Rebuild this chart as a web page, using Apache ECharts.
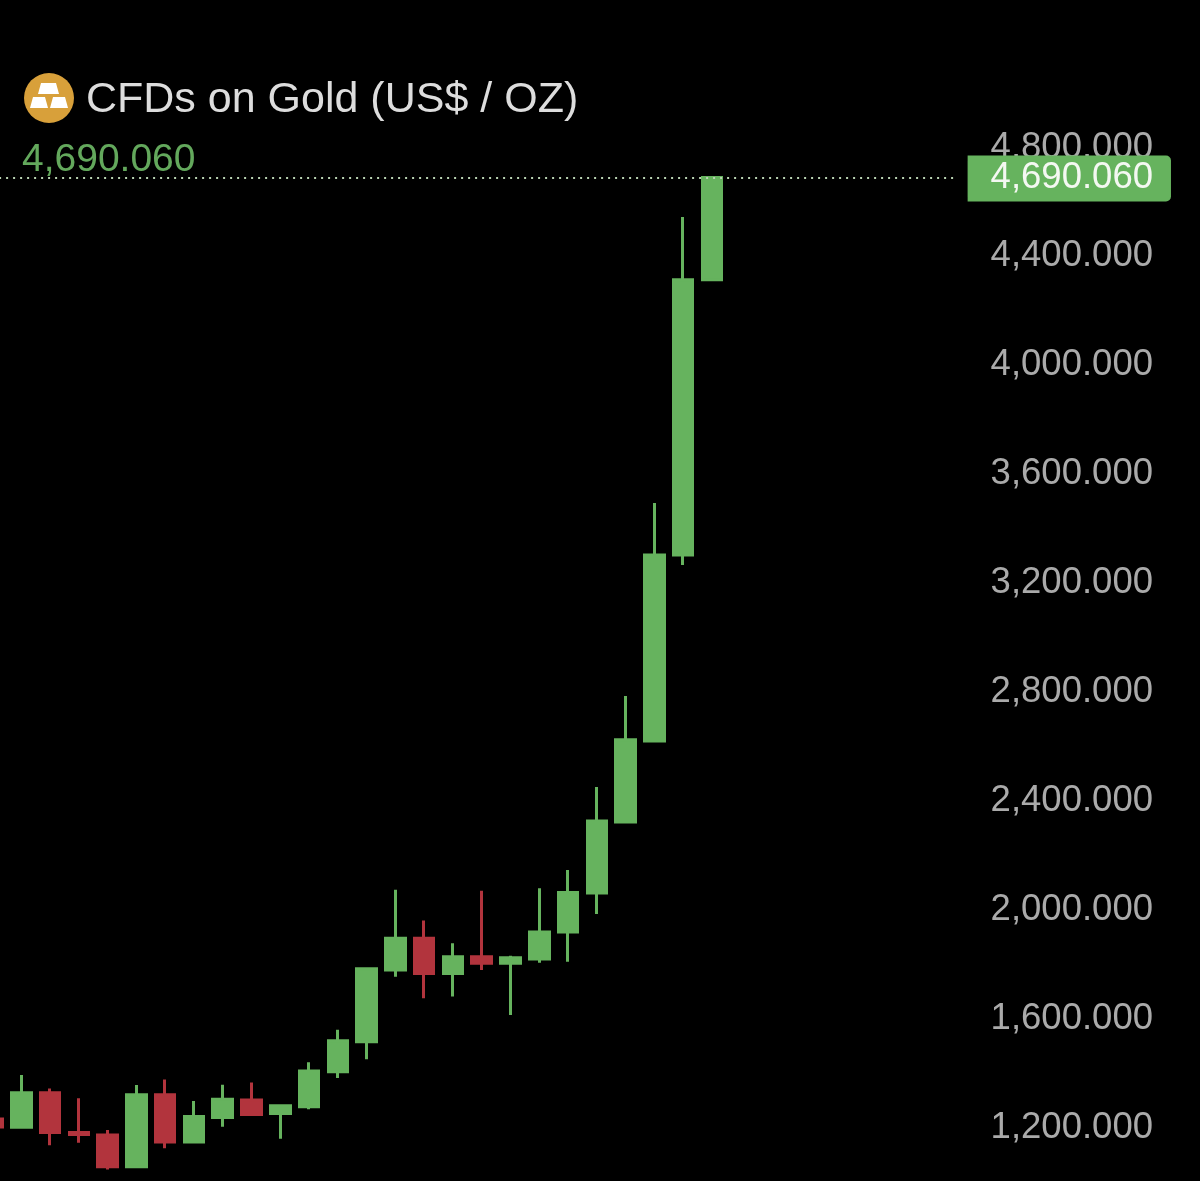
<!DOCTYPE html>
<html><head><meta charset="utf-8">
<style>html,body{margin:0;padding:0;background:#000}#c{width:1200px;height:1181px}</style>
<script src="https://cdn.jsdelivr.net/npm/echarts@6/dist/echarts.min.js"></script>
</head><body><div id="c"></div>
<script>
const periods = ["p01","p02","p03","p04","p05","p06","p07","p08","p09","p10","p11","p12","p13","p14","p15","p16","p17","p18","p19","p20","p21","p22","p23","p24","p25","p26","p27","p28","p29","p30","p31","p32","p33","p34"];
const opens  = [1231,1201,1328,1182,1172,1056,1320,1147,1237,1301,1251,1276,1405,1515,1779,1895,1766,1827,1803,1819,1918,2061,2322,2620,3303,4314];
const closes = [1202,1328,1182,1174,1056,1320,1147,1240,1304,1248,1280,1408,1519,1783,1895,1766,1827,1803,1824,1918,2063,2326,2624,3303,4314,4690.06];
const lows   = [1202,1201,1135,1144,1046,1056,1124,1147,1203,1248,1159,1267,1382,1451,1754,1675,1681,1779,1613,1805,1809,1984,2322,2620,3266,4310];
const highs  = [1231,1393,1343,1307,1191,1356,1376,1297,1357,1365,1285,1440,1559,1787,2073,1960,1877,2070,1831,2079,2146,2451,2785,3494,4545,4690.06];
const lastPrice = 4690.06;
const titleText = "CFDs on Gold (US$ / OZ)";

const fmt = v => Number(v).toLocaleString("en-US",{minimumFractionDigits:3,maximumFractionDigits:3});
const UP="#66b35e", DOWN="#b2343d", FONT="'Liberation Sans',Arial,sans-serif";
const candles = opens.map((o,i)=>[o,closes[i],lows[i],highs[i]]);

const chart = echarts.init(document.getElementById("c"),null,{renderer:"canvas"});
chart.setOption({
  animation:false,
  backgroundColor:"#000",
  grid:{left:-21.9,width:978.5,top:147.5,height:980,outerBoundsMode:"none"},
  xAxis:{type:"category",data:periods,boundaryGap:true,show:false},
  yAxis:{type:"value",position:"right",min:1200,max:4800,interval:400,
    axisLine:{show:false},axisTick:{show:false},splitLine:{show:false},
    axisLabel:{color:"#aaaaaa",fontFamily:FONT,fontSize:36.5,margin:34,align:"left",formatter:fmt}},
  graphic:[
    {type:"circle",shape:{cx:49,cy:98,r:25},style:{fill:"#d8a03a"},silent:true},
    {type:"polygon",shape:{points:[[41,83],[56,83],[59,94],[38,94]]},style:{fill:"#fff"},silent:true},
    {type:"polygon",shape:{points:[[33,97],[45,97],[48,108],[30,108]]},style:{fill:"#fff"},silent:true},
    {type:"polygon",shape:{points:[[53,97],[65,97],[68,108],[50,108]]},style:{fill:"#fff"},silent:true},
    {type:"text",x:86,y:100,style:{text:titleText,fill:"#dddddd",font:"43px "+FONT,textVerticalAlign:"middle"},silent:true},
    {type:"text",x:22,y:160,style:{text:fmt(lastPrice),fill:"#63a85c",font:"39px "+FONT,textVerticalAlign:"middle"},silent:true}
  ],
  series:[{
    type:"candlestick",clip:false,barWidth:20,z:3,
    data:candles,
    itemStyle:{color:UP,color0:DOWN,borderColor:UP,borderColor0:DOWN,borderWidth:3,borderColorDoji:UP},
    markLine:{
      silent:true,symbol:"none",animation:false,precision:3,
      lineStyle:{color:"#b9d3b2",type:[2,5],width:2,opacity:1},
      label:{show:true,position:"end",distance:11,offset:[0,1],formatter:()=>fmt(lastPrice),
        color:"#f4f8f2",fontFamily:FONT,fontSize:36.5,
        backgroundColor:UP,padding:[2,18,7,23],borderRadius:[0,5,5,0]},
      data:[{yAxis:lastPrice}]
    }
  }]
});
</script></body></html>
